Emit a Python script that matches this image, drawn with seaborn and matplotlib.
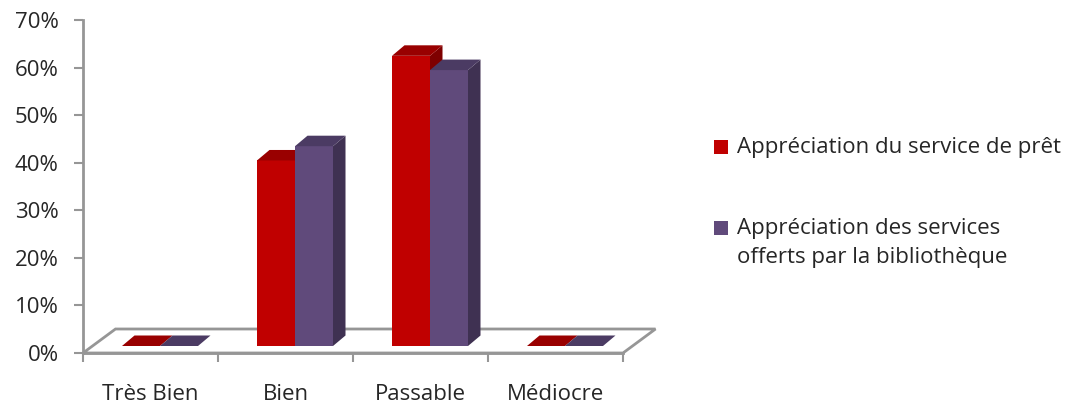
import matplotlib
matplotlib.use("Agg")
import matplotlib.pyplot as plt
from matplotlib.patches import Polygon, Rectangle
from matplotlib.ticker import FixedLocator
import pandas as pd
import seaborn as sns

# ---- data -------------------------------------------------------------
categories = ["Très Bien", "Bien", "Passable", "Médiocre"]
series_names = [
    "Appréciation du service de prêt",
    "Appréciation des services\nofferts par la bibliothèque",
]
pret_values = [0, 39, 61, 0]
services_values = [0, 42, 58, 0]
y_tick_values = [0, 10, 20, 30, 40, 50, 60, 70]
y_tick_labels = ["0%", "10%", "20%", "30%", "40%", "50%", "60%", "70%"]

df = pd.DataFrame({
    "categorie": categories * 2,
    "valeur": pret_values + services_values,
    "serie": [series_names[0]] * len(categories) + [series_names[1]] * len(categories),
})

# ---- style ------------------------------------------------------------
front_colors = ["#C00000", "#604A7B"]
top_colors = ["#990000", "#4B3B63"]
side_colors = ["#7E0000", "#3F3152"]
axis_gray = "#969696"

sns.set_style("white")
plt.rcParams["font.family"] = ["Open Sans", "DejaVu Sans"]
FONT_SIZE = 16

W, H = 1079, 407
fig = plt.figure(figsize=(W / 100, H / 100), dpi=100)
ax = fig.add_axes([83 / W, 54 / H, 540 / W, 333 / H])

sns.barplot(
    data=df, x="categorie", y="valeur", hue="serie",
    order=categories, hue_order=series_names, palette=front_colors,
    width=0.563, saturation=1, errorbar=None, legend=False, ax=ax,
)
ax.set_xlim(-0.5, len(categories) - 0.5)
ax.set_ylim(0, 70)


def px_to_data(dx, dy):
    """Convert a pixel displacement into data units."""
    x0, y0 = ax.transData.transform((0, 0))
    x1, y1 = ax.transData.inverted().transform((x0 + dx, y0 + dy))
    return x1, y1


# pseudo-3D offsets (in pixels): bars set slightly back on the floor
front_dx, front_dy = px_to_data(9.5, 7)
depth_dx, depth_dy = px_to_data(12.5, 10.5)
floor_dx, floor_dy = px_to_data(32.5, 24)

# floor of the 3D plot
x_lo, x_hi = ax.get_xlim()
floor = Polygon(
    [(x_lo, 0), (x_hi, 0), (x_hi + floor_dx, floor_dy), (x_lo + floor_dx, floor_dy)],
    closed=True, facecolor="white", edgecolor=axis_gray, lw=2,
    zorder=1, clip_on=False,
)
ax.add_patch(floor)

# extrude each bar with a top face and a side face
bars = [b for b in ax.patches if b is not floor]
n = len(categories)
for idx, bar in enumerate(bars):
    s = idx // n
    base = 2 + s * 0.3
    bar.set_x(bar.get_x() + front_dx)
    bar.set_y(bar.get_y() + front_dy)
    bar.set_zorder(base)
    bar.set_clip_on(False)
    bar.set_linewidth(0)
    x0 = bar.get_x()
    x1 = x0 + bar.get_width()
    b = bar.get_y()
    t = b + bar.get_height()
    side = Polygon(
        [(x1, b), (x1 + depth_dx, b + depth_dy), (x1 + depth_dx, t + depth_dy), (x1, t)],
        closed=True, facecolor=side_colors[s], edgecolor="none",
        zorder=base + 0.1, clip_on=False,
    )
    top = Polygon(
        [(x0, t), (x1, t), (x1 + depth_dx, t + depth_dy), (x0 + depth_dx, t + depth_dy)],
        closed=True, facecolor=top_colors[s], edgecolor="none",
        zorder=base + 0.2, clip_on=False,
    )
    ax.add_patch(side)
    ax.add_patch(top)

# ---- axes -------------------------------------------------------------
for name in ["top", "right"]:
    ax.spines[name].set_visible(False)
for name in ["left", "bottom"]:
    ax.spines[name].set_color(axis_gray)
    ax.spines[name].set_linewidth(2)
    ax.spines[name].set_zorder(1.5)

ax.set_yticks(y_tick_values)
ax.set_yticklabels(y_tick_labels, fontsize=FONT_SIZE)
ax.tick_params(axis="y", direction="out", length=6.5, width=1.5,
               color=axis_gray, pad=11, left=True)

ax.set_xticks(range(len(categories)))
ax.set_xticklabels(categories, fontsize=FONT_SIZE)
ax.xaxis.set_minor_locator(FixedLocator([i - 0.5 for i in range(len(categories) + 1)]))
ax.tick_params(axis="x", which="major", length=0, pad=22)
ax.tick_params(axis="x", which="minor", direction="out", length=6.5,
               width=1.5, color=axis_gray, bottom=True)
ax.set_xlabel("")
ax.set_ylabel("")

# ---- legend (marker aligned with first line of each entry) -------------
marker_x, text_x, size = 714, 737, 14
centers = [(147, 147), (228, 243)]
for s, (marker_cy, text_cy) in enumerate(centers):
    fig.patches.append(Rectangle(
        (marker_x / W, 1 - (marker_cy + size / 2) / H), size / W, size / H,
        transform=fig.transFigure, facecolor=front_colors[s], edgecolor="none",
    ))
    fig.text(text_x / W, 1 - text_cy / H, series_names[s], fontsize=FONT_SIZE,
             va="center", ha="left", linespacing=1.5)

fig.savefig("out.png", dpi=100)
